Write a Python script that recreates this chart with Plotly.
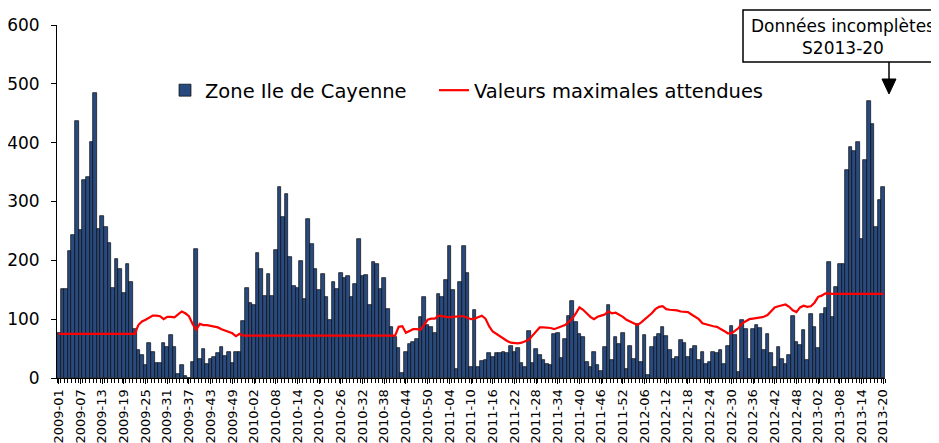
import plotly.graph_objects as go

# weekly counts, 2009-01 .. 2013-20
years = [2009, 2010, 2011, 2012, 2013]
weeks_per_year = [53, 52, 52, 52, 20]

cases_2009 = [76, 151, 151, 216, 243, 437, 251, 336, 342, 401, 485, 253, 275, 257, 229,
              153, 202, 186, 144, 194, 163, 83, 48, 39, 22, 59, 44, 26, 26, 59,
              52, 73, 52, 7, 22, 4, 0, 27, 220, 32, 50, 23, 32, 35, 42,
              53, 37, 45, 25, 44, 45, 97, 153]
cases_2010 = [128, 124, 212, 186, 140, 176, 140, 217, 324, 274, 313, 205, 156, 153, 199,
              135, 270, 228, 186, 149, 177, 137, 99, 164, 151, 178, 170, 173, 137, 160,
              236, 173, 175, 124, 198, 193, 151, 170, 118, 86, 69, 51, 9, 44, 58,
              61, 67, 103, 137, 90, 86, 77]
cases_2011 = [143, 138, 167, 224, 150, 15, 163, 225, 178, 19, 116, 19, 29, 31, 42,
              36, 42, 43, 45, 42, 54, 44, 51, 26, 19, 80, 25, 49, 39, 31,
              24, 22, 75, 76, 34, 66, 105, 131, 95, 74, 70, 28, 19, 45, 22,
              12, 52, 124, 30, 70, 58, 77]
cases_2012 = [16, 54, 32, 92, 28, 73, 5, 53, 70, 74, 86, 71, 48, 32, 36,
              65, 59, 36, 49, 54, 31, 44, 24, 28, 44, 43, 48, 24, 54, 88,
              73, 10, 99, 83, 32, 84, 90, 85, 47, 74, 43, 19, 53, 32, 24,
              39, 106, 62, 56, 82, 31, 109]
cases_2013 = [86, 51, 109, 119, 198, 103, 155, 194, 194, 354, 393, 385, 401, 237, 371,
              470, 432, 256, 303, 325]

max_2009 = [75] * 22 + [90, 96, 99, 102, 106, 106, 105, 100, 104, 104, 103, 108, 113, 110, 105,
                        92, 82, 92, 90, 90, 89, 88, 86, 83, 81, 79, 76, 71, 75, 72, 72]
max_2010 = [72] * 40 + [72, 87, 88, 77, 80, 83, 83, 82, 90, 99, 101, 101]
max_2011 = [106, 105, 103, 103, 104, 105, 105, 105, 103, 100, 101, 103, 106, 101, 88,
            79, 75, 70, 66, 63, 60, 59, 59, 60, 62, 65, 72, 80, 86, 86,
            86, 85, 83, 85, 87, 90, 95, 101, 110, 120, 116, 110, 104, 100, 104,
            106, 108, 113, 110, 111, 108, 104]
max_2012 = [99, 96, 92, 90, 94, 99, 104, 110, 117, 121, 122, 117, 116, 116, 115,
            113, 112, 112, 108, 104, 100, 93, 91, 90, 88, 87, 84, 80, 76, 76,
            80, 85, 93, 97, 100, 101, 102, 103, 104, 107, 113, 120, 122, 124, 125,
            121, 115, 112, 120, 123, 121, 122]
max_2013 = [128, 138, 140, 144] + [143] * 16

week_labels = [f"{y}-{w:02d}" for y, n in zip(years, weeks_per_year) for w in range(1, n + 1)]
cases = cases_2009 + cases_2010 + cases_2011 + cases_2012 + cases_2013
max_expected = max_2009 + max_2010 + max_2011 + max_2012 + max_2013
x = list(range(len(week_labels)))

FONT = "DejaVu Sans, Liberation Sans, Arial"

# page body has an 8px margin, so the figure is drawn 8px smaller and offset
OFF = 8
W, H = 939 - OFF, 443 - OFF
# plot area in page pixels
PL, PR, PT, PB = 57, 885, 25, 378


def px(v):
    return (v - PL) / (PR - PL)


def py(v):
    return (PB - v) / (PB - PT)


fig = go.Figure()
fig.add_trace(go.Bar(x=x, y=cases, name="Zone Ile de Cayenne", legend="legend",
                     marker=dict(color="#284a7e", line=dict(color="#0a0a0a", width=0.7))))
fig.add_trace(go.Scatter(x=x, y=max_expected, name="Valeurs maximales attendues",
                         legend="legend2", mode="lines",
                         line=dict(color="#ff0000", width=2.2)))

leg = dict(orientation="h", xanchor="left", yanchor="top",
           font=dict(size=19.5, family=FONT), bgcolor="rgba(0,0,0,0)")
fig.update_layout(
    width=W, height=H,
    margin=dict(l=PL - OFF, r=939 - PR, t=PT - OFF, b=443 - PB),
    paper_bgcolor="white", plot_bgcolor="white",
    bargap=0,
    font=dict(family=FONT, color="black"),
    legend=dict(leg, x=px(165), y=py(71)),
    legend2=dict(leg, x=px(434), y=py(71)),
    showlegend=True,
)
fig.update_xaxes(range=[-0.5, len(x) - 0.5], showgrid=False, zeroline=False,
                 showline=True, linecolor="black", linewidth=1, automargin=False,
                 tickvals=x[::6], ticktext=week_labels[::6], tickangle=-90,
                 ticks="outside", ticklen=5, tickcolor="black",
                 minor=dict(dtick=1, tick0=0.5, ticks="outside", ticklen=4, tickcolor="black"),
                 tickfont=dict(size=13, family=FONT))
fig.update_yaxes(range=[0, 600], dtick=100, showgrid=False, zeroline=False,
                 showline=True, linecolor="black", linewidth=1, automargin=False,
                 ticks="outside", ticklen=5, tickcolor="black",
                 ticklabelstandoff=8, tickfont=dict(size=17, family=FONT))

# "Données incomplètes" box and arrow
fig.add_shape(type="rect", xref="paper", yref="paper",
              x0=px(743), x1=px(950), y0=py(62), y1=py(10),
              line=dict(color="black", width=1.5), fillcolor="white")
fig.add_annotation(xref="paper", yref="paper", x=px(843), y=py(37),
                   xanchor="center", yanchor="middle",
                   text="Données incomplètes<br>S2013-20", showarrow=False,
                   font=dict(size=17, family=FONT), align="center")
fig.add_shape(type="line", xref="paper", yref="paper",
              x0=px(889), x1=px(889), y0=py(62), y1=py(80),
              line=dict(color="black", width=1.5))
fig.add_shape(type="path", xref="paper", yref="paper",
              path=f"M {px(882)} {py(79)} L {px(896)} {py(79)} L {px(889)} {py(94)} Z",
              fillcolor="black", line=dict(color="black", width=1))

fig.write_html("out.html")
